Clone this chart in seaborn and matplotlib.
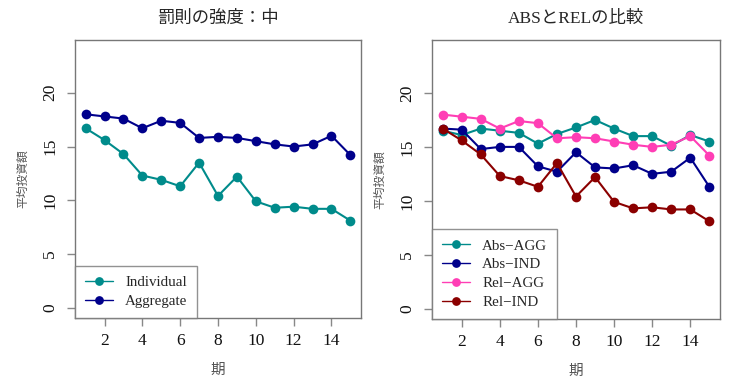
import pandas as pd
import matplotlib
matplotlib.use("Agg")
import matplotlib.pyplot as plt
import seaborn as sb

periods = list(range(1, 16))
individual = [16.7, 15.6, 14.3, 12.3, 11.9, 11.3, 13.5, 10.4, 12.2, 9.9, 9.3, 9.4, 9.2, 9.2, 8.1]
aggregate = [18.0, 17.8, 17.6, 16.7, 17.4, 17.2, 15.8, 15.9, 15.8, 15.5, 15.2, 15.0, 15.2, 16.0, 14.2]
abs_agg = [16.5, 16.1, 16.7, 16.5, 16.3, 15.3, 16.2, 16.8, 17.5, 16.7, 16.0, 16.0, 15.1, 16.1, 15.5]
abs_ind = [16.7, 16.6, 14.8, 15.0, 15.0, 13.2, 12.7, 14.5, 13.1, 13.0, 13.3, 12.5, 12.7, 14.0, 11.3]
rel_agg = aggregate
rel_ind = individual

left_names = ["Individual", "Aggregate"]
left_colors = ["#008B8B", "#00008B"]
right_names = ["Abs\u2212AGG", "Abs\u2212IND", "Rel\u2212AGG", "Rel\u2212IND"]
right_colors = ["#008B8B", "#00008B", "#FF3EB5", "#8B0000"]

left_df = pd.concat([
    pd.DataFrame({"period": periods, "value": individual, "group": left_names[0]}),
    pd.DataFrame({"period": periods, "value": aggregate, "group": left_names[1]}),
])
right_df = pd.concat([
    pd.DataFrame({"period": periods, "value": v, "group": n})
    for v, n in zip([abs_agg, abs_ind, rel_agg, rel_ind], right_names)
])

sb.set_style("white")
plt.rcParams["font.family"] = ["Liberation Serif", "Noto Sans CJK JP"]

fig = plt.figure(figsize=(7.31, 3.77), dpi=100)
ax1 = fig.add_axes([75 / 731, 1 - 318 / 377, 286 / 731, 278.5 / 377])
ax2 = fig.add_axes([432 / 731, 1 - 319 / 377, 288 / 731, 279.5 / 377])


def draw(ax, df, names, colors, title):
    sb.lineplot(data=df, x="period", y="value", hue="group", hue_order=names,
                palette=colors, marker="o", markersize=7, markeredgewidth=0,
                linewidth=1.5, ax=ax)
    ax.set_xlim(0.44, 15.56)
    ax.set_ylim(-0.96, 24.96)
    ax.set_xticks([2, 4, 6, 8, 10, 12, 14])
    ax.set_yticks([0, 5, 10, 15, 20])
    ax.tick_params(axis="both", direction="out", length=6, width=1,
                   color="#888888", labelsize=12.5, labelcolor="#111111",
                   left=True, bottom=True)
    ax.tick_params(axis="x", pad=5)
    ax.tick_params(axis="y", pad=6, labelrotation=90)
    for lab in ax.get_yticklabels():
        lab.set_va("center")
    for sp in ax.spines.values():
        sp.set_color("#777777")
        sp.set_linewidth(1)
    ax.set_title(title, fontsize=12.5, pad=12, family=["Liberation Serif", "Noto Sans CJK JP"])
    ax.set_xlabel("期", fontsize=10.5, color="#555555", family="Noto Sans CJK JP")
    ax.set_ylabel("平均投資額", fontsize=8.5, color="#555555", family="Noto Sans CJK JP")
    ax.xaxis.set_label_coords(0.5, -0.16)
    ax.yaxis.set_label_coords(-0.16, 0.5)
    leg = ax.legend(loc="lower left", borderaxespad=0, frameon=True, fancybox=False,
                    fontsize=10.8, handlelength=1.9, handletextpad=0.8,
                    labelspacing=0.36, borderpad=0.65, markerscale=0.9)
    leg.get_frame().set_edgecolor("#777777")
    leg.get_frame().set_linewidth(1)
    for h in leg.get_lines():
        h.set_linewidth(1)


draw(ax1, left_df, left_names, left_colors, "罰則の強度：中")
draw(ax2, right_df, right_names, right_colors, "ABSとRELの比較")

fig.savefig("out.png", dpi=100)
